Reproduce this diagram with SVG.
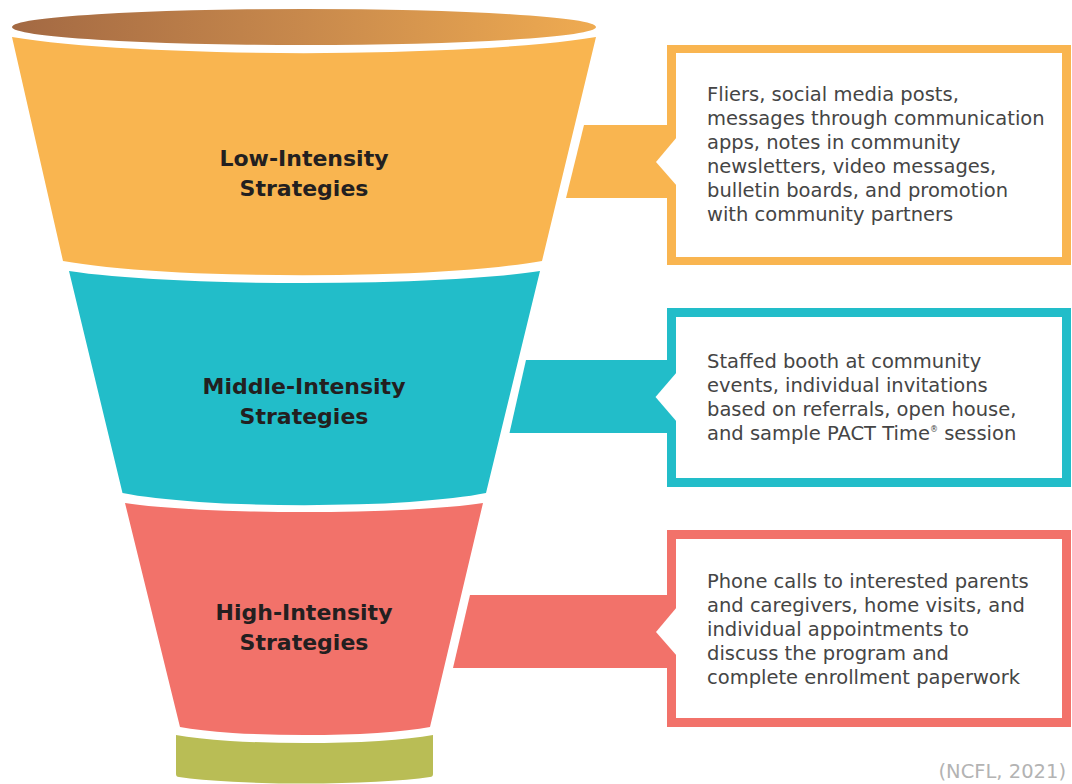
<svg xmlns="http://www.w3.org/2000/svg" width="1072" height="784" viewBox="0 0 1072 784">
  <defs>
    <linearGradient id="rimGrad" x1="0" y1="0" x2="1" y2="0">
      <stop offset="0" stop-color="#A36943"/>
      <stop offset="0.5" stop-color="#C8894C"/>
      <stop offset="1" stop-color="#EFAB51"/>
    </linearGradient>
    <style>
      .orange { fill: #F9B550; }
      .teal { fill: #22BDC9; }
      .red { fill: #F2726A; }
      .green { fill: #B9BD55; }
      .white { fill: #FFFFFF; }
      .label { font-family: "DejaVu Sans", "Liberation Sans", sans-serif; font-weight: bold; font-size: 22px; fill: #231F20; text-anchor: middle; }
      .body { font-family: "DejaVu Sans", "Liberation Sans", sans-serif; font-size: 19.5px; fill: #454545; }
      .cite { font-family: "DejaVu Sans", "Liberation Sans", sans-serif; font-size: 19.5px; fill: #B3B3B3; text-anchor: end; }
    </style>
  </defs>

  <rect width="1072" height="784" fill="#FFFFFF"/>

  <!-- funnel rim -->
  <g id="rim">
    <ellipse cx="304" cy="27" rx="292" ry="18" fill="url(#rimGrad)"/>
  </g>

  <!-- funnel bands -->
  <g id="band-low">
    <path class="orange" d="M12,37 A336,32 0 0 0 596,37 L542,261 A275,28 0 0 1 63,261 Z"/>
    <text class="label" x="304" y="166">Low-Intensity</text>
    <text class="label" x="304" y="196">Strategies</text>
  </g>
  <g id="band-middle">
    <path class="teal" d="M69,271 A271,24 0 0 0 540,271 L486,493 A209,24 0 0 1 122.5,493 Z"/>
    <text class="label" x="304" y="394">Middle-Intensity</text>
    <text class="label" x="304" y="424">Strategies</text>
  </g>
  <g id="band-high">
    <path class="red" d="M125,503 A206,18 0 0 0 483,503 L430,727 A144,16 0 0 1 180,727 Z"/>
    <text class="label" x="304" y="620">High-Intensity</text>
    <text class="label" x="304" y="650">Strategies</text>
  </g>
  <g id="spout">
    <path class="green" d="M176,735 A148,16 0 0 0 433,735 L433,774 Q433,777 430,777 A148,14 0 0 1 179,777 Q176,777 176,774 Z"/>
  </g>

  <!-- connector tabs from funnel to boxes -->
  <g id="connectors">
    <polygon class="orange" points="584,125 672,125 672,198 566,198"/>
    <polygon class="teal" points="526,360 672,360 672,433 509.5,433"/>
    <polygon class="red" points="470,595 672,595 672,668 453,668"/>
  </g>

  <!-- callout boxes -->
  <g id="box-low">
    <rect class="orange" x="667" y="45" width="404" height="220"/>
    <rect class="white" x="676" y="53" width="386" height="204"/>
    <polygon class="white" points="677,137 656,162 677,186"/>
    <text class="body" x="707" y="101">Fliers, social media posts,</text>
    <text class="body" x="707" y="125">messages through communication</text>
    <text class="body" x="707" y="149">apps, notes in community</text>
    <text class="body" x="707" y="173">newsletters, video messages,</text>
    <text class="body" x="707" y="197">bulletin boards, and promotion</text>
    <text class="body" x="707" y="221">with community partners</text>
  </g>
  <g id="box-middle">
    <rect class="teal" x="667" y="308" width="404" height="179"/>
    <rect class="white" x="676" y="317" width="386" height="161"/>
    <polygon class="white" points="677,372 655.5,397 677,422"/>
    <text class="body" x="707" y="368">Staffed booth at community</text>
    <text class="body" x="707" y="392">events, individual invitations</text>
    <text class="body" x="707" y="416">based on referrals, open house,</text>
    <text class="body" x="707" y="440">and sample PACT Time<tspan font-size="8" dy="-8">®</tspan><tspan dy="8"> session</tspan></text>
  </g>
  <g id="box-high">
    <rect class="red" x="667" y="530" width="404" height="197"/>
    <rect class="white" x="676" y="539" width="386" height="179"/>
    <polygon class="white" points="677,607 656,632 677,656"/>
    <text class="body" x="707" y="588">Phone calls to interested parents</text>
    <text class="body" x="707" y="612">and caregivers, home visits, and</text>
    <text class="body" x="707" y="636">individual appointments to</text>
    <text class="body" x="707" y="660">discuss the program and</text>
    <text class="body" x="707" y="684">complete enrollment paperwork</text>
  </g>

  <text class="cite" x="1066" y="778">(NCFL, 2021)</text>
</svg>
